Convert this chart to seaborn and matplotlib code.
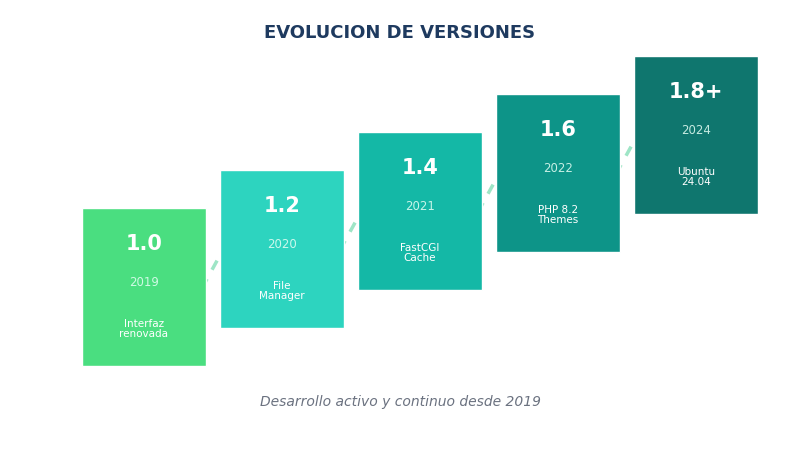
import seaborn as sns
import matplotlib.pyplot as plt

versions = ["1.0", "1.2", "1.4", "1.6", "1.8+"]
years = ["2019", "2020", "2021", "2022", "2024"]
features = ["Interfaz\nrenovada", "File\nManager", "FastCGI\nCache", "PHP 8.2\nThemes", "Ubuntu\n24.04"]
colors = ["#4ade80", "#2dd4bf", "#14b8a6", "#0d9488", "#0f766e"]

sns.set_theme(style="white")
plt.rcParams['font.family'] = ['DejaVu Sans']

fig = plt.figure(figsize=(8, 4.5), dpi=100)
ax = fig.add_axes([0, 0, 1, 1])
ax.set_xlim(0, 800)
ax.set_ylim(450, 0)
ax.axis("off")

x0, y0, w, h = 82, 208, 124, 158
dx, dy = 138, -38

# dashed connectors behind the cards
for i in range(len(versions) - 1):
    xs = x0 + i * dx + w - 4
    ys = y0 + i * dy + 80
    ax.plot([xs, xs + dx - w + 8], [ys, ys + dy - 2], ls=(0, (3, 3)), lw=2.5,
            color="#86dfb8", alpha=0.8, zorder=1)

lefts = [x0 + i * dx for i in range(len(versions))]
tops = [y0 + i * dy for i in range(len(versions))]
ax.bar(lefts, [h] * len(versions), bottom=tops, width=w, align="edge",
       color=colors, zorder=2)

for i, (v, yr, ft) in enumerate(zip(versions, years, features)):
    cx = lefts[i] + w / 2
    ax.text(cx, tops[i] + 36, v, ha="center", va="center", color="white",
            fontsize=15, fontweight="bold", zorder=3)
    ax.text(cx, tops[i] + 74, yr, ha="center", va="center", color="#e6fff5",
            fontsize=8.5, alpha=0.85, zorder=3)
    ax.text(cx, tops[i] + 121, ft, ha="center", va="center", color="white",
            fontsize=7.5, linespacing=1.0, zorder=3)

ax.text(400, 33, "EVOLUCION DE VERSIONES", ha="center", va="center",
        color="#1e3a5f", fontsize=13, fontweight="bold")
ax.text(400, 402, "Desarrollo activo y continuo desde 2019", ha="center",
        va="center", color="#6b7280", fontsize=10, style="italic")

fig.savefig("out.png", dpi=100, facecolor="white")
